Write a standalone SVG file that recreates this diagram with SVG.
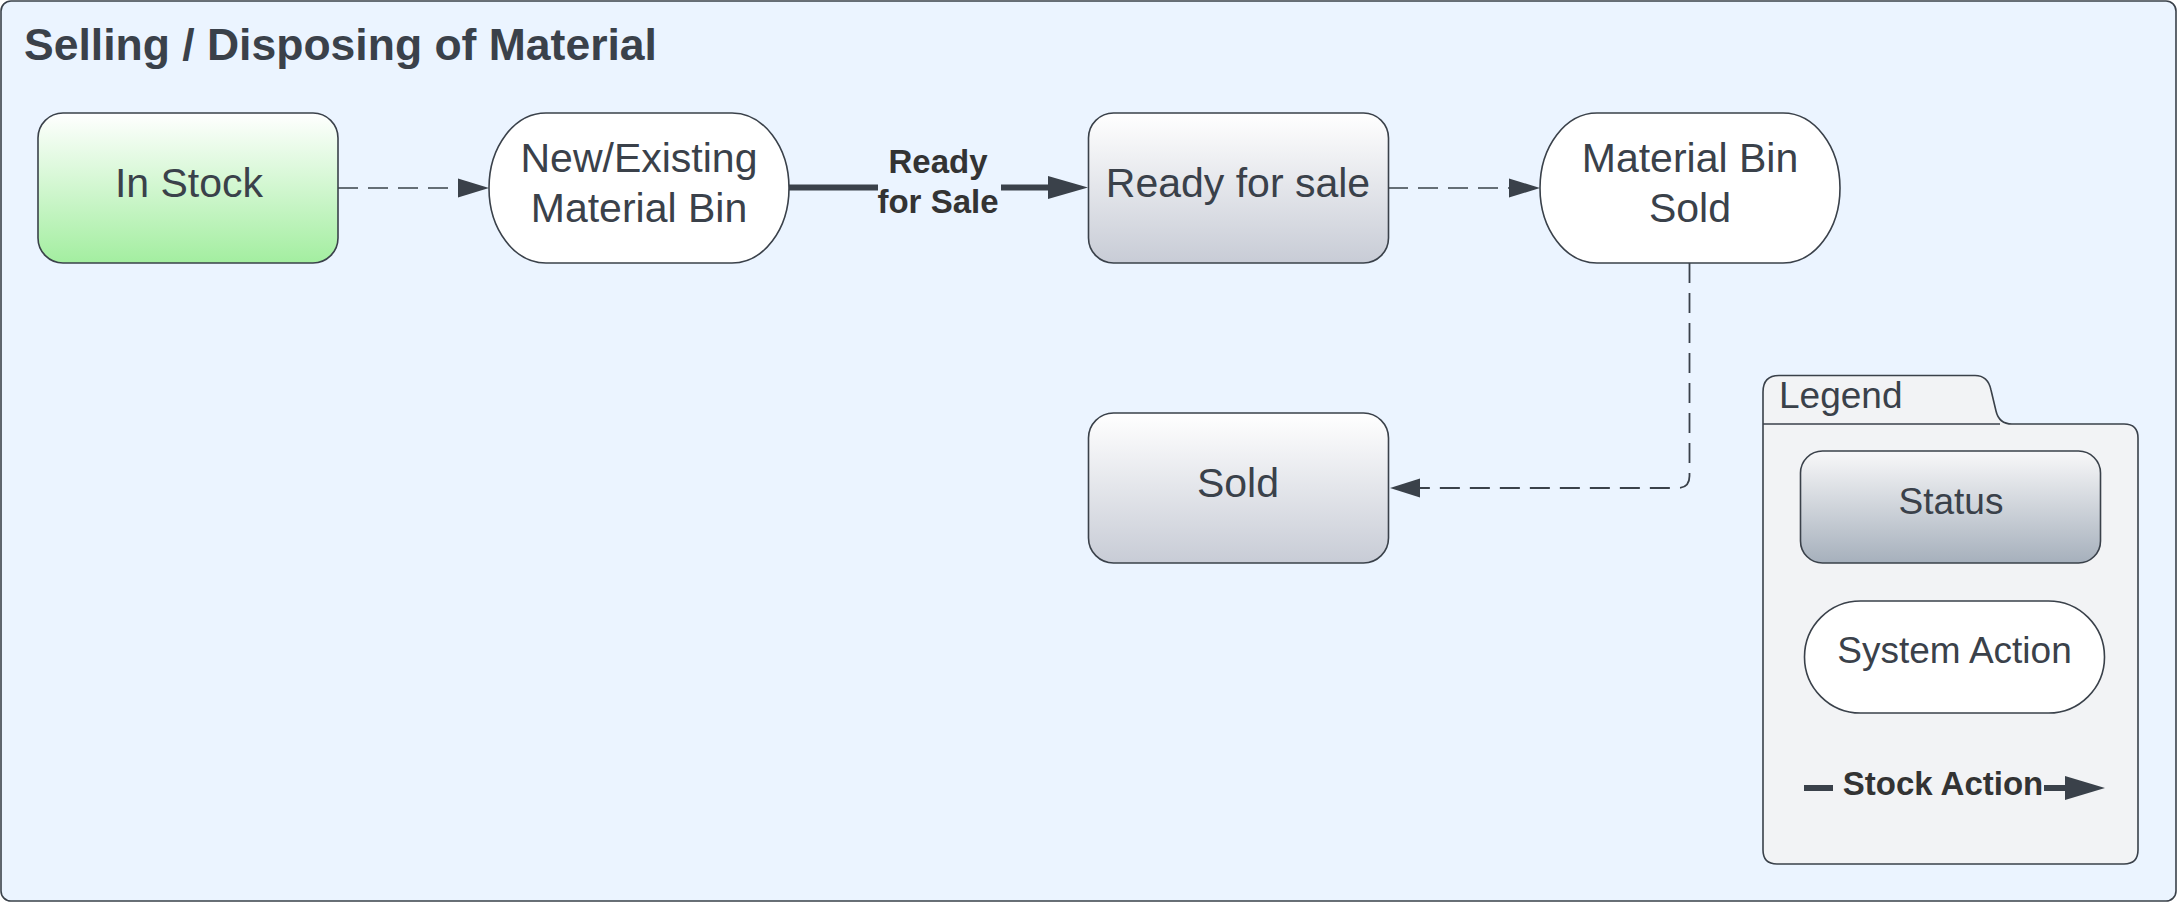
<svg xmlns="http://www.w3.org/2000/svg" width="2177" height="902" viewBox="0 0 2177 902">
<style>
text{font-family:"Liberation Sans",Arial,sans-serif;fill:#3a414a;text-anchor:middle;font-size:41px}
.b{font-weight:700;fill:#333;font-size:33px}
.s{font-size:37px}
.n{stroke:#3a414a;stroke-width:1.6}
.w{fill:#fff}
.d{fill:none;stroke:#3a414a;stroke-width:1.5;stroke-dasharray:20 10}
.t{fill:none;stroke:#3a414a;stroke-width:6}
.h{fill:#3a414a}
</style>
<defs>
<linearGradient id="g" x1="0" y1="0" x2="0" y2="1"><stop offset="0" stop-color="#fff"/><stop offset="1" stop-color="#a3eea0"/></linearGradient>
<linearGradient id="k" x1="0" y1="0" x2="0" y2="1"><stop offset="0" stop-color="#fff"/><stop offset="1" stop-color="#c8ccd6"/></linearGradient>
<linearGradient id="l" x1="0" y1="0" x2="0" y2="1"><stop offset="0" stop-color="#f8f8f9"/><stop offset="1" stop-color="#a6b0bc"/></linearGradient>
</defs>
<g id="frame"><rect x="1" y="1" width="2175" height="900" rx="10" fill="#ebf4ff" stroke="#3a414a" stroke-width="1.6"/>
<text x="24" y="60" style="font-size:44.5px;font-weight:700;text-anchor:start">Selling / Disposing of Material</text></g>
<g id="connectors">
<path class="d" d="M338 188H458"/>
<path class="h" d="M458 178.500L489 188L458 197.500Z"/>
<path class="t" d="M789 187.500H878M1001 187.500H1050"/>
<path class="h" d="M1048 176L1088 187.500L1048 199Z"/>
<path class="d" d="M1388 188H1509"/>
<path class="h" d="M1509 178.500L1540 188L1509 197.500Z"/>
<path class="d" d="M1689.500 263V476Q1689.500 488 1677.500 488H1420" style="stroke-width:1.8"/>
<path class="h" d="M1420 478.500L1390 488L1420 497.500Z"/>
</g>
<g id="in-stock"><rect class="n" x="38" y="113" width="300" height="150" rx="25" fill="url(#g)"/><text x="189" y="197">In Stock</text></g>
<g id="new-existing-bin"><rect class="n w" x="489" y="113" width="300" height="150" rx="57" ry="75"/><text x="639" y="172">New/Existing</text><text x="639" y="222">Material Bin</text></g>
<g id="ready-label"><text class="b" x="938" y="173">Ready</text><text class="b" x="938" y="213">for Sale</text></g>
<g id="ready-for-sale"><rect class="n" x="1088.500" y="113" width="300" height="150" rx="25" fill="url(#k)"/><text x="1238" y="197">Ready for sale</text></g>
<g id="material-bin-sold"><rect class="n w" x="1540" y="113" width="300" height="150" rx="57" ry="75"/><text x="1690" y="172">Material Bin</text><text x="1690" y="222">Sold</text></g>
<g id="sold"><rect class="n" x="1088.500" y="413" width="300" height="150" rx="25" fill="url(#k)"/><text x="1238" y="497">Sold</text></g>
<g id="legend">
<path class="n" d="M1763 424V392Q1763 375.500 1779 375.500H1975Q1988 375.500 1991 390L1996 411Q1999 424 2012 424H2124Q2138 424 2138 438V850Q2138 864 2124 864H1777Q1763 864 1763 850Z" fill="#f2f3f5"/>
<path class="n" d="M1763 424H2000" fill="none"/>
<text class="s" x="1779" y="408" style="text-anchor:start">Legend</text>
<rect class="n" x="1800.500" y="451" width="300" height="112" rx="22" fill="url(#l)"/><text class="s" x="1951" y="514">Status</text>
<rect class="n w" x="1804.500" y="601" width="300" height="112" rx="56"/><text class="s" x="1954.500" y="663">System Action</text>
<path class="t" d="M1804 788H1833M2044 788H2070"/><path class="h" d="M2065 776L2105 788L2065 800Z"/>
<text class="b" x="1943" y="795">Stock Action</text>
</g>
</svg>
